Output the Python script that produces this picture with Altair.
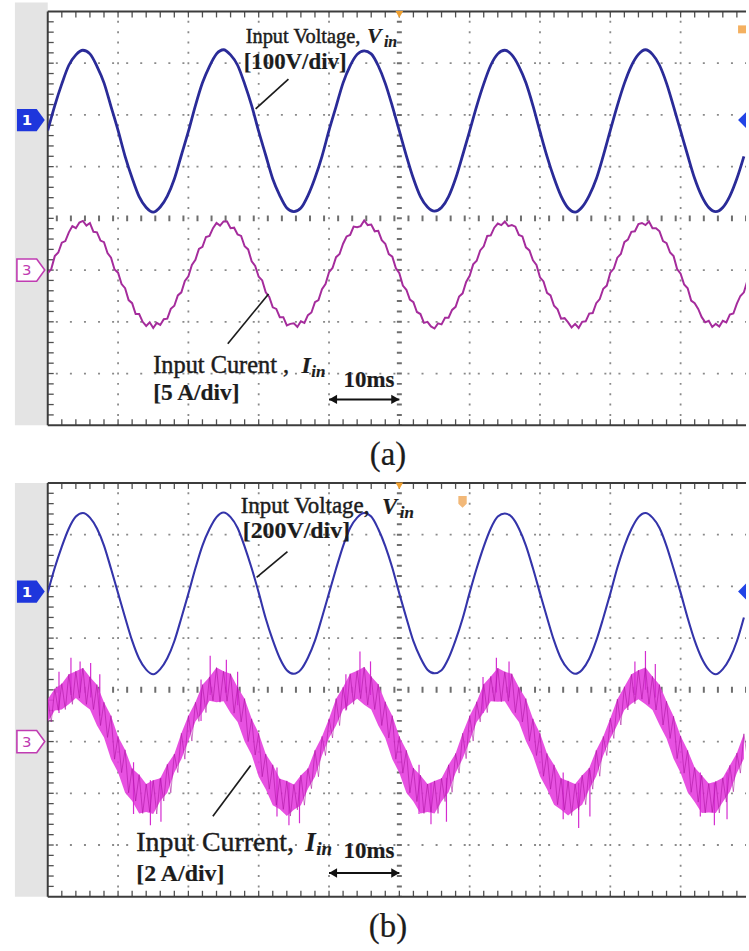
import altair as alt
import pandas as pd

# ---------------------------------------------------------------------------
# Values read from the two oscilloscope captures.
# Vertical unit = one screen division (0 = screen centre, +-4 = frame),
# horizontal unit = ms (10 ms / division).
# ---------------------------------------------------------------------------
volt_a = [
    1.70, 2.18, 2.60, 2.96, 3.16, 3.25, 3.18, 2.94, 2.62, 2.16, 1.70, 1.20, 0.78, 0.42, 0.21, 0.12, 0.22, 0.43, 0.76, 1.22,
    1.68, 2.18, 2.62, 2.94, 3.18, 3.26, 3.16, 2.96, 2.60, 2.18, 1.68, 1.22, 0.76, 0.44, 0.20, 0.13, 0.20, 0.44, 0.78, 1.20,
    1.70, 2.16, 2.62, 2.95, 3.17, 3.24, 3.18, 2.95, 2.61, 2.17, 1.69, 1.21, 0.77, 0.42, 0.22, 0.14, 0.21, 0.42, 0.77, 1.22,
    1.69, 2.17, 2.60, 2.96, 3.18, 3.25, 3.16, 2.94, 2.62, 2.18, 1.68, 1.20, 0.78, 0.43, 0.20, 0.12, 0.22, 0.44, 0.76, 1.21,
    1.70, 2.18, 2.61, 2.95, 3.17, 3.26, 3.17, 2.96, 2.61, 2.16, 1.69, 1.22, 0.77, 0.43, 0.21, 0.13, 0.21, 0.43, 0.77, 1.20,
]

# input current (a), sampled every 0.5 ms
curr_a = [
    -1.06, -0.98, -0.73, -0.66, -0.47, -0.44, -0.27, -0.15, -0.19, -0.08, -0.05, -0.14, -0.09, -0.26, -0.27, -0.43, -0.46, -0.67, -0.76, -0.99,
    -1.05, -1.27, -1.35, -1.58, -1.64, -1.85, -1.85, -2.00, -2.08, -2.01, -2.12, -2.02, -2.06, -1.95, -1.94, -1.75, -1.69, -1.49, -1.43, -1.21,
    -1.12, -0.90, -0.80, -0.59, -0.55, -0.36, -0.34, -0.19, -0.09, -0.14, -0.06, -0.06, -0.19, -0.18, -0.31, -0.34, -0.54, -0.60, -0.83, -0.92,
    -1.13, -1.20, -1.43, -1.52, -1.72, -1.75, -1.91, -1.91, -2.07, -2.04, -2.03, -2.10, -1.99, -2.02, -1.87, -1.82, -1.62, -1.58, -1.37, -1.27,
    -1.04, -0.96, -0.75, -0.69, -0.49, -0.35, -0.32, -0.16, -0.17, -0.15, -0.04, -0.13, -0.12, -0.25, -0.24, -0.42, -0.49, -0.69, -0.74, -0.96,
    -1.06, -1.30, -1.38, -1.57, -1.62, -1.81, -1.85, -2.02, -2.00, -2.09, -2.13, -2.03, -2.05, -1.92, -1.92, -1.77, -1.71, -1.51, -1.45, -1.23,
    -1.11, -0.89, -0.82, -0.62, -0.54, -0.34, -0.33, -0.18, -0.10, -0.13, -0.06, -0.15, -0.13, -0.16, -0.32, -0.35, -0.56, -0.62, -0.81, -0.90,
    -1.14, -1.22, -1.44, -1.49, -1.69, -1.76, -1.94, -1.93, -2.01, -2.11, -2.04, -2.12, -2.00, -1.99, -1.84, -1.83, -1.64, -1.56, -1.36, -1.30,
    -1.05, -0.97, -0.76, -0.69, -0.46, -0.41, -0.26, -0.25, -0.11, -0.09, -0.13, -0.06, -0.19, -0.19, -0.25, -0.44, -0.48, -0.66, -0.73, -0.98,
    -1.07, -1.28, -1.35, -1.59, -1.64, -1.75, -1.91, -2.01, -1.98, -2.10, -2.04, -2.09, -1.98, -2.01, -1.86, -1.84, -1.65, -1.50, -1.43, -1.20,
]

volt_b = [
    1.88, 2.36, 2.77, 3.12, 3.35, 3.42, 3.33, 3.12, 2.79, 2.34, 1.87, 1.40, 0.95, 0.60, 0.39, 0.30, 0.40, 0.61, 0.94, 1.39,
    1.86, 2.35, 2.79, 3.11, 3.34, 3.43, 3.34, 3.13, 2.77, 2.35, 1.88, 1.38, 0.96, 0.61, 0.38, 0.31, 0.39, 0.62, 0.95, 1.40,
    1.87, 2.34, 2.78, 3.13, 3.33, 3.42, 3.35, 3.11, 2.78, 2.36, 1.86, 1.39, 0.94, 0.62, 0.39, 0.32, 0.38, 0.61, 0.96, 1.38,
    1.88, 2.35, 2.77, 3.12, 3.35, 3.41, 3.34, 3.12, 2.79, 2.35, 1.87, 1.40, 0.95, 0.60, 0.40, 0.31, 0.39, 0.60, 0.95, 1.39,
    1.86, 2.36, 2.78, 3.11, 3.34, 3.42, 3.33, 3.13, 2.78, 2.34, 1.88, 1.39, 0.95, 0.61, 0.39, 0.30, 0.40, 0.61, 0.94, 1.40,
]

# noisy input current (b): upper noise envelope at whole ms, lower at half ms
curr_b_high = [
    -0.18, 0.02, 0.12, 0.30, 0.36, 0.42, 0.25, 0.10, -0.24, -0.50, -0.90, -1.16, -1.52, -1.64, -1.82, -1.75, -1.71, -1.44, -1.24, -0.84,
    -0.50, -0.24, 0.10, 0.25, 0.43, 0.36, 0.31, 0.05, -0.17, -0.56, -0.84, -1.24, -1.45, -1.72, -1.76, -1.83, -1.65, -1.52, -1.17, -0.90,
    -0.56, -0.17, 0.05, 0.31, 0.37, 0.44, 0.26, 0.11, -0.23, -0.50, -0.90, -1.17, -1.51, -1.65, -1.82, -1.76, -1.71, -1.45, -1.23, -0.84,
    -0.50, -0.23, 0.11, 0.26, 0.42, 0.35, 0.31, 0.05, -0.17, -0.56, -0.84, -1.23, -1.45, -1.71, -1.76, -1.82, -1.65, -1.51, -1.17, -0.90,
    -0.55, -0.18, 0.06, 0.30, 0.38, 0.43, 0.26, 0.10, -0.22, -0.51, -0.89, -1.17, -1.50, -1.65, -1.81, -1.77, -1.70, -1.46, -1.22, -0.85,
]
curr_b_low = [
    -0.62, -0.40, -0.38, -0.28, -0.16, -0.28, -0.38, -0.69, -0.92, -1.34, -1.60, -1.99, -2.15, -2.39, -2.36, -2.40, -2.15, -1.99, -1.60, -1.34,
    -0.99, -0.61, -0.44, -0.21, -0.24, -0.22, -0.45, -0.62, -1.00, -1.26, -1.68, -1.92, -2.23, -2.31, -2.44, -2.32, -2.23, -1.91, -1.68, -1.27,
    -0.93, -0.69, -0.38, -0.28, -0.17, -0.29, -0.38, -0.69, -0.93, -1.34, -1.61, -1.99, -2.16, -2.39, -2.36, -2.39, -2.16, -1.98, -1.61, -1.33,
    -0.99, -0.62, -0.44, -0.22, -0.23, -0.22, -0.44, -0.62, -0.99, -1.27, -1.67, -1.92, -2.22, -2.32, -2.43, -2.32, -2.22, -1.92, -1.67, -1.27,
    -0.94, -0.68, -0.39, -0.27, -0.18, -0.28, -0.39, -0.68, -0.94, -1.33, -1.61, -1.98, -2.17, -2.38, -2.37, -2.38, -2.17, -1.97, -1.61, -1.33,
]
spike_t = [1.6, 3.3, 4.6, 6.1, 7.4, 12.2, 14.6, 16.1, 21.8, 23.1, 25.4, 27.0, 32.6, 34.3, 35.8,
           42.4, 44.4, 45.9, 52.8, 54.5, 56.7, 61.9, 63.8, 65.6, 73.3, 75.5, 77.1, 83.5, 85.0, 86.4,
           92.8, 94.8, 96.6]
spike_top = [0.35, 0.62, 0.55, 0.52, 0.30, -1.40, -1.75, -1.70, 0.20, 0.66, 0.58, 0.35, -1.50, -1.80, -1.75,
             0.30, 0.74, 0.55, -1.45, -1.80, -1.70, 0.25, 0.62, 0.55, -1.60, -1.80, -1.55, 0.55, 0.75, 0.50,
             -1.60, -1.80, -1.60]
spike_bottom = [-0.45, -0.10, -0.05, -0.15, -0.50, -2.40, -2.62, -2.55, -0.60, -0.10, -0.05, -0.30, -2.45, -2.62, -2.58,
                -0.40, -0.05, -0.10, -2.40, -2.60, -2.55, -0.45, -0.05, -0.15, -2.50, -2.67, -2.45, -0.10, 0.00, -0.15,
                -2.45, -2.62, -2.50]

channel_levels = [1.9, -1.0]        # ground markers of channel 1 and channel 3
trigger_t = [50.0]
scalebar_t = [40.0, 50.0]           # "10ms" double arrow
scalebar_level_a = -3.5
scalebar_level_b = -3.54
grid_t = [10, 20, 30, 40, 60, 70, 80, 90]
grid_v = [-3, -2, -1, 1, 2, 3]
center_t = [50]
center_v = [0]

# ---------------------------------------------------------------------------
W, H = 702, 416
T_MAX = 99.3
xs = alt.Scale(domain=[0, T_MAX], nice=False, zero=False)
ys = alt.Scale(domain=[-4, 4], nice=False, zero=False)
SERIF = "Liberation Serif"
INK = "#1c1c1c"
ONE = pd.DataFrame({"k": [0]})

t_ms = list(range(len(volt_a)))
t_half = [i * 0.5 for i in range(len(curr_a))]
minor_t = [2 * i for i in range(1, 50)]
minor_v = [round(-4 + 0.2 * i, 1) for i in range(1, 40)]


def X(f="t"):
    return alt.X(f"{f}:Q", scale=xs, axis=None)


def Y(f="v"):
    return alt.Y(f"{f}:Q", scale=ys, axis=None)


def text(s, x, y, size, weight="normal", style="normal", align="left", heavy=0.45):
    return alt.Chart(ONE).mark_text(
        text=s, font=SERIF, fontSize=size, fontWeight=weight, fontStyle=style,
        align=align, baseline="alphabetic", color=INK, stroke=INK, strokeWidth=heavy,
    ).encode(x=alt.value(x), y=alt.value(y))


def seg(x1, y1, x2, y2):
    return alt.Chart(ONE).mark_rule(color=INK, strokeWidth=1.7).encode(
        x=alt.value(x1), y=alt.value(y1), x2=alt.value(x2), y2=alt.value(y2))


def frame(gray_top):
    layers = []
    layers.append(alt.Chart(ONE).mark_rect(color="#e4e4e4").encode(
        x=alt.value(-33), x2=alt.value(0), y=alt.value(gray_top), y2=alt.value(H)))
    layers.append(alt.Chart(pd.DataFrame({"t": grid_t})).mark_rule(
        color="#8a8a8a", strokeWidth=1.8, strokeDash=[2.0, 8.4], strokeDashOffset=1.0).encode(x=X()))
    layers.append(alt.Chart(pd.DataFrame({"v": grid_v})).mark_rule(
        color="#8a8a8a", strokeWidth=1.8, strokeDash=[2.0, 12.14], strokeDashOffset=1.0).encode(y=Y()))
    layers.append(alt.Chart(pd.DataFrame({"t": center_t})).mark_rule(
        color="#6e6e6e", strokeWidth=5, strokeDash=[2.0, 8.4], strokeDashOffset=1.0).encode(x=X()))
    layers.append(alt.Chart(pd.DataFrame({"v": center_v})).mark_rule(
        color="#6e6e6e", strokeWidth=6, strokeDash=[2.0, 12.14], strokeDashOffset=1.0).encode(y=Y()))
    tick_t = pd.DataFrame({"t": minor_t})
    tick_v = pd.DataFrame({"v": minor_v})
    layers.append(alt.Chart(tick_t).mark_tick(orient="vertical", size=6, thickness=1.3,
                                              color="#505050", opacity=1).encode(x=X(), y=alt.value(3)))
    layers.append(alt.Chart(tick_t).mark_tick(orient="vertical", size=6, thickness=1.3,
                                              color="#505050", opacity=1).encode(x=X(), y=alt.value(H - 3)))
    layers.append(alt.Chart(tick_v).mark_tick(orient="horizontal", size=6, thickness=1.3,
                                              color="#505050", opacity=1).encode(y=Y(), x=alt.value(3)))
    for yy in (0, H):
        layers.append(alt.Chart(ONE).mark_rule(color="#3c3c3c", strokeWidth=2).encode(
            x=alt.value(0), x2=alt.value(W), y=alt.value(yy)))
    layers.append(alt.Chart(ONE).mark_rule(color="#3c3c3c", strokeWidth=2).encode(
        x=alt.value(0), y=alt.value(0), y2=alt.value(H)))
    return layers


MARKER = "M-1,-0.8L0.42,-0.8L1,0L0.42,0.8L-1,0.8Z"


def markers():
    lv1 = pd.DataFrame({"v": [channel_levels[0]]})
    lv3 = pd.DataFrame({"v": [channel_levels[1]]})
    trig = pd.DataFrame({"t": trigger_t})
    return [
        alt.Chart(lv1).mark_point(shape=MARKER, size=784, filled=True, color="#1e36dc", opacity=1).encode(
            x=alt.value(-17), y=Y()),
        alt.Chart(lv1).mark_text(text="1", color="white", font="DejaVu Sans", fontSize=15, fontWeight="bold").encode(
            x=alt.value(-21), y=Y()),
        alt.Chart(lv3).mark_point(shape=MARKER, size=784, filled=True, fill="white", stroke="#c03cb2",
                                  strokeWidth=1.6, opacity=1).encode(x=alt.value(-17), y=Y()),
        alt.Chart(lv3).mark_text(text="3", color="#c03cb2", font="DejaVu Sans", fontSize=15).encode(
            x=alt.value(-21), y=Y()),
        alt.Chart(lv1).mark_point(shape="M0,-1L-1,0L0,1Z", size=256, filled=True, color="#2244e6", opacity=1).encode(
            x=alt.value(W), y=Y()),
        alt.Chart(trig).mark_point(shape="triangle-down", size=60, filled=True, color="#f0a030", opacity=1).encode(
            x=X(), y=alt.value(3)),
    ]


def scalebar(level):
    d = pd.DataFrame({"t": [scalebar_t[0]], "t2": [scalebar_t[1]], "v": [level]})
    d1 = pd.DataFrame({"t": [scalebar_t[0]], "v": [level]})
    d2 = pd.DataFrame({"t": [scalebar_t[1]], "v": [level]})
    return [
        alt.Chart(d).mark_rule(color="#111", strokeWidth=2).encode(x=X(), x2=alt.X2("t2"), y=Y()),
        alt.Chart(d1).mark_point(shape="triangle-left", size=90, filled=True, color="#111", opacity=1,
                                 xOffset=4).encode(x=X(), y=Y()),
        alt.Chart(d2).mark_point(shape="triangle-right", size=90, filled=True, color="#111", opacity=1,
                                 xOffset=-4).encode(x=X(), y=Y()),
    ]


# ----------------------------- panel (a) -----------------------------------
va = pd.DataFrame({"t": t_ms, "v": volt_a})
ia = pd.DataFrame({"t": t_half, "v": curr_a})

layers_a = frame(-9)
layers_a += [
    alt.Chart(ia).mark_line(clip=True, color="#a52c9c", strokeWidth=2.0).encode(x=X(), y=Y()),
    alt.Chart(va).mark_line(clip=True, color="#2a2b98", strokeWidth=2.8, interpolate="monotone").encode(x=X(), y=Y()),
]
layers_a += markers()
layers_a.append(alt.Chart(ONE).mark_point(shape="square", size=64, filled=True, color="#f4b060", opacity=1).encode(
    x=alt.value(W - 4), y=alt.value(18)))
layers_a += scalebar(scalebar_level_a)
layers_a += [
    text("Input Voltage,", 199, 32, 20.5),
    text("V", 321, 32, 22, "bold", "italic", heavy=0.2),
    text("in", 338, 36, 16, "bold", "italic", heavy=0.2),
    text("[100V/div]", 197, 58, 23, "bold", heavy=0.2),
    seg(242, 68, 209, 98),
    text("Input Curent ,", 106, 363, 24.5),
    text("I", 255, 363, 24, "bold", "italic", heavy=0.2),
    text("in", 265, 367, 17, "bold", "italic", heavy=0.2),
    text("[5 A/div]", 106, 391, 23.5, "bold", heavy=0.2),
    seg(222, 284, 181, 334),
    text("10ms", 323, 378, 23, "bold", align="center", heavy=0.2),
    text("(a)", 342, H + 40, 33, align="center", heavy=0.2),
]
panel_a = alt.layer(*layers_a).properties(width=W, height=H)

# ----------------------------- panel (b) -----------------------------------
vb = pd.DataFrame({"t": t_ms, "v": volt_b})
band = pd.DataFrame({"t": t_ms, "hi": curr_b_high, "lo": curr_b_low})
zig_t, zig_v = [], []
for k in range(len(curr_b_high)):
    zig_t += [k, k + 0.5]
    zig_v += [curr_b_high[k], curr_b_low[k]]
zig = pd.DataFrame({"t": zig_t, "v": zig_v})
spikes = pd.DataFrame({"t": spike_t, "top": spike_top, "bottom": spike_bottom})

layers_b = frame(0)
layers_b += [
    alt.Chart(band).mark_area(clip=True, color="#e43ede", opacity=0.9).encode(x=X(), y=Y("hi"), y2=alt.Y2("lo")),
    alt.Chart(spikes).mark_rule(clip=True, color="#d42cd0", strokeWidth=1.2).encode(
        x=X(), y=Y("top"), y2=alt.Y2("bottom")),
    alt.Chart(zig).mark_line(clip=True, color="#a8129e", strokeWidth=0.8, opacity=0.7).encode(x=X(), y=Y()),
    alt.Chart(vb).mark_line(clip=True, color="#3434aa", strokeWidth=2.1, interpolate="monotone").encode(x=X(), y=Y()),
]
layers_b += markers()
layers_b.append(alt.Chart(ONE).mark_point(shape="M-0.7,-1L0.7,-1L0.7,0.3L0,1L-0.7,0.3Z", size=144, filled=True,
                                          color="#f2b878", opacity=1).encode(x=alt.value(417), y=alt.value(19)))
layers_b += scalebar(scalebar_level_b)
layers_b += [
    text("Input Voltage,", 194, 30, 23),
    text("V", 336, 31, 23, "bold", "italic", heavy=0.2),
    text("in", 354, 35, 17, "bold", "italic", heavy=0.2),
    text("[200V/div]", 196, 55, 24, "bold", heavy=0.2),
    seg(241, 69, 210, 95),
    text("Input Current,", 89, 370, 28),
    text("I", 259, 370, 27, "bold", "italic", heavy=0.2),
    text("in", 270, 374, 19, "bold", "italic", heavy=0.2),
    text("[2 A/div]", 89, 400, 24, "bold", heavy=0.2),
    seg(204, 284, 166, 335),
    text("10ms", 323, 377, 23, "bold", align="center", heavy=0.2),
    text("(b)", 342, H + 40, 33, align="center", heavy=0.2),
]
panel_b = alt.layer(*layers_b).properties(width=W, height=H)

chart = alt.vconcat(panel_a, panel_b, spacing=58, bounds="flush",
                    padding={"left": 13, "top": 0, "right": 0, "bottom": 0}).configure_view(strokeWidth=0)

chart.save("out.html", embed_options={"renderer": "svg", "actions": False})
